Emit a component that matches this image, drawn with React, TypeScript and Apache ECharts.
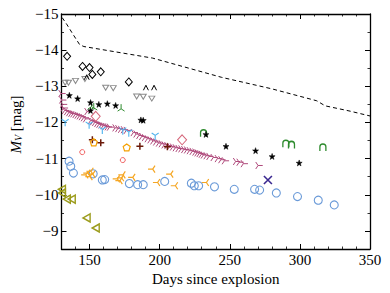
import React, { useEffect, useRef } from "react";
import * as echarts from "echarts";

const FONT = "Liberation Serif";

const xMajorTicks = [150, 200, 250, 300, 350];

const dashedLine = [
  [130.5, -14.9], [134, -14.7], [138, -14.45], [143, -14.15], [146, -14.1],
  [195, -13.78], [244, -13.25], [280, -12.93], [312, -12.6], [318, -12.46],
  [335, -12.32], [350, -12.18],
];

const blackDiamonds = [
  [134, -13.83], [145, -13.55], [150, -13.52], [152, -13.33], [158, -13.4], [178, -13.12],
];

const greyTriangles = [
  [132.6, -13.1], [135, -13.1], [140, -13.15], [146.7, -13.2], [161.5, -12.96],
  [166.9, -12.95], [183.6, -12.72], [188.3, -12.71], [194.4, -12.66],
];

const blackCarets = [
  [148, -13.25], [190.2, -12.96], [196, -12.96],
];

const blackStars = [
  [135.6, -12.75], [141.5, -12.66], [150.7, -12.55], [156.6, -12.5], [162.7, -12.52],
  [168.6, -12.47], [150.7, -12.33], [186.6, -12.07], [188.3, -12.06], [233, -11.67],
  [247.3, -11.34], [268.4, -11.22], [280.2, -11.06], [299.5, -10.88],
];

const greenTris = [
  [151.4, -12.47], [153, -12.44], [172.5, -12.41],
];

const greenArches = [
  [231.3, -11.7], [290, -11.41], [294, -11.38], [316.4, -11.31],
];

const crimsonTris = [
  [130.5, -12.8], [131, -12.62], [131.6, -12.5], [132.2, -12.4], [133, -12.33],
  [134.5, -12.3], [136, -12.27], [137.5, -12.25], [139, -12.24], [140.5, -12.22],
  [142, -12.2], [143.5, -12.18], [145, -12.16], [146.5, -12.13], [148, -12.1],
  [149, -12.3], [151.5, -12.05], [153, -12.02], [154.5, -12.0], [156, -11.97],
  [157.5, -11.95], [159, -11.93], [160.5, -11.91], [162, -11.89], [163.5, -11.88],
  [165, -11.87], [169, -11.85], [171, -11.83], [173, -11.81], [175, -11.8],
  [177, -11.78], [182, -11.72], [184, -11.68], [186, -11.64], [188, -11.61],
  [190, -11.58], [192, -11.55], [194, -11.52], [196, -11.49], [198, -11.46],
  [200, -11.43], [202, -11.41], [204, -11.38], [206, -11.36], [208, -11.34],
  [210, -11.32], [212, -11.3], [214, -11.28], [216, -11.27], [218, -11.25],
  [220, -11.24], [222, -11.22], [224, -11.2], [226, -11.18], [227.5, -11.16],
  [229, -11.14], [230.5, -11.12], [232, -11.1], [234, -11.08], [236, -11.06],
  [239, -11.03], [242, -11.0], [244.5, -10.97], [247, -10.94], [255, -10.92],
  [257.5, -10.9], [260.5, -10.86], [271, -10.81],
];

const blueTris = [
  [132.6, -11.99], [149.7, -11.92], [159.1, -11.78], [173.7, -11.76], [178, -11.7],
  [196.8, -11.61],
];

const roseDiamonds = [
  [154.4, -12.17], [216, -11.52],
];

const brownPlus = [
  [152, -11.52], [158, -11.44], [185.9, -11.34], [205.5, -11.33],
];

const orangePentagons = [
  [153, -11.45], [176.5, -11.31],
];

const redCircles = [
  [144.8, -11.18], [173.7, -10.96],
];

const blueCircles = [
  [135.4, -10.93], [136.6, -10.79], [138.5, -10.6], [152.6, -10.58], [159.1, -10.41],
  [160.8, -10.42], [178.4, -10.31], [184.3, -10.28], [188.3, -10.28], [203.6, -10.37],
  [222.6, -10.32], [224.7, -10.25], [227.8, -10.25], [239.1, -10.22], [253.2, -10.15],
  [267.7, -10.15], [271.3, -10.13], [283.2, -10.05], [298.3, -9.95], [313.1, -9.85],
  [324.5, -9.72],
];

const orangeTris = [
  [146.5, -10.55], [148, -10.6], [149.5, -10.5], [150.2, -10.65], [151.5, -10.57],
  [169, -10.44], [170.9, -10.39], [172, -10.47], [173, -10.55], [180, -10.48],
  [194.2, -10.71], [197.7, -10.34], [207.1, -10.57], [210.4, -10.25], [232.5, -10.34],
];

const navyCross = [
  [277.2, -10.41],
];

const oliveTriangles = [
  [130.3, -10.15], [130.3, -10.05], [133.8, -9.88], [137.3, -9.88], [147.9, -9.36],
  [154.4, -9.08],
];

const P = {
  triUp: "path://M5,0 L5,5 L0.67,7.5 M5,5 L9.33,7.5",
  triY: "path://M5,10 L5,5 L0.67,2.5 M5,5 L9.33,2.5",
  triRight: "path://M10,5 L5,5 L2.5,0.67 M5,5 L2.5,9.33",
  triLeft: "path://M0,5 L5,5 L7.5,0.67 M5,5 L7.5,9.33",
  caret: "path://M0,10 L5,0 L10,10",
  downTri: "path://M0,0 L10,0 L5,8.66 Z",
  leftTri: "path://M10,0 L0,5 L10,10 Z",
  plus: "path://M5,0 L5,10 M0,5 L10,5",
  cross: "path://M0,0 L10,10 M10,0 L0,10",
  arch: "path://M0,10 L0,4 C0,-1.3 10,-1.3 10,4 L10,10",
  star: "path://M5,0 L6.18,3.38 L9.76,3.45 L6.9,5.62 L7.94,9.05 L5,7 L2.06,9.05 L3.1,5.62 L0.24,3.45 L3.82,3.38 Z",
  pentagon: "path://M5,0 L9.76,3.45 L7.94,9.05 L2.06,9.05 L0.24,3.45 Z",
};

function mk(name: string, data: number[][], symbol: string, size: number | number[], stroke: string, width: number, fill?: string) {
  return {
    name,
    type: "scatter",
    data,
    symbol,
    symbolSize: size,
    z: 3,
    itemStyle: {
      color: fill || "rgba(0,0,0,0)",
      borderColor: stroke,
      borderWidth: width,
      opacity: 1,
    },
    emphasis: { disabled: true },
  };
}

export default function App() {
  const ref = useRef<HTMLDivElement>(null);
  useEffect(() => {
    if (!ref.current) return;
    const chart = echarts.init(ref.current, null, { renderer: "svg" });
    const axisLine = { show: true, lineStyle: { color: "#000", width: 1.3 } };
    const xBase = {
      type: "value",
      min: 130,
      max: 350,
      splitLine: { show: false },
    };
    const yBase = {
      type: "value",
      min: -15,
      max: -8.5,
      interval: 1,
      inverse: true,
      splitLine: { show: false },
    };
    chart.setOption({
      animation: false,
      grid: { left: 58, right: 20, top: 14, bottom: 44, containLabel: false },
      xAxis: [
        {
          ...xBase,
          position: "bottom",
          axisLine,
          axisTick: { show: true, inside: true, length: 5, customValues: xMajorTicks, lineStyle: { color: "#000", width: 1 } },
          axisLabel: {
            customValues: xMajorTicks,
            color: "#000",
            fontFamily: FONT,
            fontSize: 15,
            margin: 3,
          },
          name: "Days since explosion",
          nameLocation: "middle",
          nameGap: 18,
          nameTextStyle: { color: "#000", fontFamily: FONT, fontSize: 15, verticalAlign: "top" },
        },
        {
          ...xBase,
          interval: 10,
          position: "bottom",
          axisLine: { show: false },
          axisTick: { show: true, inside: true, length: 2.5, lineStyle: { color: "#000", width: 0.8 } },
          axisLabel: { show: false },
        },
        {
          ...xBase,
          position: "top",
          axisLine,
          axisTick: { show: true, inside: true, length: 5, customValues: xMajorTicks, lineStyle: { color: "#000", width: 1 } },
          axisLabel: { show: false },
        },
        {
          ...xBase,
          interval: 10,
          position: "top",
          axisLine: { show: false },
          axisTick: { show: true, inside: true, length: 2.5, lineStyle: { color: "#000", width: 0.8 } },
          axisLabel: { show: false },
        },
      ],
      yAxis: [
        {
          ...yBase,
          position: "left",
          axisLine,
          axisTick: { show: true, inside: true, length: 5, lineStyle: { color: "#000", width: 1 } },
          minorTick: { show: true, splitNumber: 2, length: 2.5, lineStyle: { color: "#000", width: 0.8 } },
          axisLabel: {
            color: "#000",
            fontFamily: FONT,
            fontSize: 15,
            margin: 3,
            formatter: (v: number) => (Number.isInteger(v) ? String(v).replace("-", "\u2212") : ""),
          },
          name: "{i|M}{s|V} [mag]",
          nameLocation: "middle",
          nameRotate: 90,
          nameGap: 38,
          nameTextStyle: {
            color: "#000",
            fontFamily: FONT,
            fontSize: 15,
            padding: [0, 0, 0, 14],
            rich: {
              i: { fontFamily: FONT, fontSize: 15, fontStyle: "italic", color: "#000" },
              s: { fontFamily: FONT, fontSize: 10, fontStyle: "italic", color: "#000", padding: [6, 0, 0, 0] },
            },
          },
        },
        {
          ...yBase,
          position: "right",
          axisLine,
          axisTick: { show: true, inside: true, length: 5, lineStyle: { color: "#000", width: 1 } },
          minorTick: { show: true, splitNumber: 2, length: 2.5, lineStyle: { color: "#000", width: 0.8 } },
          axisLabel: { show: false },
        },
      ],
      series: [
        {
          name: "limit",
          type: "line",
          data: dashedLine,
          symbol: "none",
          z: 2,
          lineStyle: { color: "#000", width: 1, type: [4, 3] },
          emphasis: { disabled: true },
        },
        mk("blueCircles", blueCircles, "circle", 8, "#6a9ad8", 1.1),
        mk("crimson", crimsonTris, P.triRight, 7, "#b04a7c", 1),
        mk("diamonds", blackDiamonds, "diamond", [7, 8], "#000", 1),
        mk("grey", greyTriangles, P.downTri, [6, 5], "#8a8a8a", 1),
        mk("carets", blackCarets, P.caret, [5, 5], "#000", 1),
        mk("green", greenTris, P.triUp, [7, 7], "#2e8b2e", 1),
        mk("arches", greenArches, P.arch, [6, 7], "#2e8b2e", 1.4),
        mk("blueTris", blueTris, P.triY, [7, 7], "#4fb3ee", 1.1),
        mk("rose", roseDiamonds, "diamond", [9, 10], "#d5667a", 1),
        mk("plus", brownPlus, P.plus, 7, "#6b1a0a", 1.5),
        mk("pent", orangePentagons, P.pentagon, 7, "#f5a000", 1.2),
        mk("red", redCircles, "circle", 5, "#f06060", 1),
        mk("orangeTris", orangeTris, P.triLeft, 7, "#f5a623", 1.2),
        mk("navy", navyCross, P.cross, 8, "#3a2890", 1.6),
        mk("olive", oliveTriangles, P.leftTri, [7, 8], "#9c9c1c", 1.5),
        mk("stars", blackStars, P.star, 6, "#000", 0.5, "#000"),
      ],
    });
    return () => chart.dispose();
  }, []);
  return <div ref={ref} style={{ width: 390, height: 293, position: "absolute", left: 0, top: 0 }} />;
}
